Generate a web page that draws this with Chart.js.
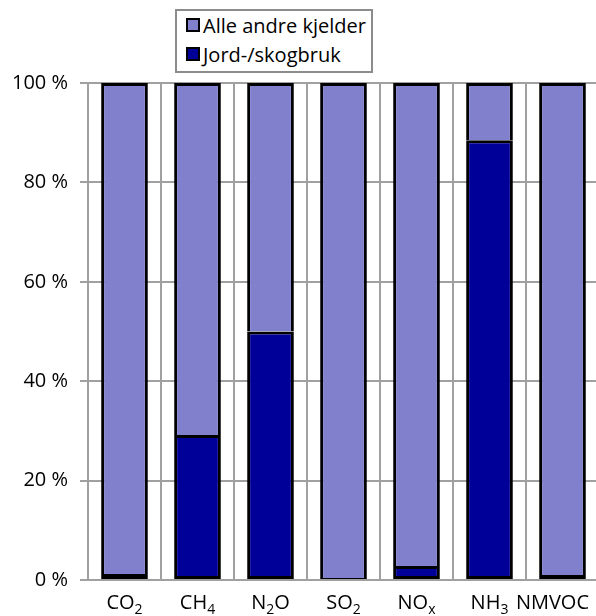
<!DOCTYPE html>
<html><head><meta charset="utf-8">
<script src="https://cdn.jsdelivr.net/npm/chart.js@4"></script>
<style>
html,body{margin:0;padding:0;overflow:hidden;background:#fff;}
#wrap{position:relative;width:599px;height:616px;}
#legend{position:absolute;left:175px;top:9px;width:194px;height:60px;border:2px solid #8c8c8c;background:#fff;font-family:'Open Sans',sans-serif;font-size:20px;color:#000;}
.item{position:absolute;left:9px;height:26px;display:flex;align-items:center;white-space:nowrap;}
.sw{width:10px;height:10px;border:2px solid #000;margin-right:3px;}
</style>
</head><body>
<div id="wrap">
<canvas id="c" width="599" height="616"></canvas>
<div id="legend"></div>
</div>
<script>
const categories = ['CO_2','CH_4','N_2O','SO_2','NO_x','NH_3','NMVOC'];
const seriesNames = ['Jord-/skogbruk','Alle andre kjelder'];
const jordSkogbruk = [1.2, 29.2, 50.0, 0.4, 2.8, 88.5, 1.0];
const alleAndre = [98.8, 70.8, 50.0, 99.6, 97.2, 11.5, 99.0];
const yTicks = [0, 20, 40, 60, 80, 100];
const colors = ['#000099', '#8080cc'];

// HTML legend (Alle andre first)
const leg = document.getElementById('legend');
[[seriesNames[1], colors[1]], [seriesNames[0], colors[0]]].forEach((s, i) => {
  const d = document.createElement('div');
  d.className = 'item';
  d.style.top = (1 + i * 29) + 'px';
  d.innerHTML = '<span class="sw" style="background:' + s[1] + '"></span><span>' + s[0] + '</span>';
  leg.appendChild(d);
});

const FONT = "'Open Sans', sans-serif";
const VIEW_RIGHT = 589;

const subLabels = {
  id: 'subLabels',
  afterDraw(chart) {
    const ctx = chart.ctx, xs = chart.scales.x;
    const base = chart.chartArea.bottom + 29;
    ctx.save();
    ctx.fillStyle = '#000';
    ctx.textBaseline = 'alphabetic';
    ctx.textAlign = 'left';
    categories.forEach((lab, i) => {
      const parts = [];
      for (let k = 0; k < lab.length; k++) {
        if (lab[k] === '_') { parts.push([lab[k + 1], true]); k++; }
        else parts.push([lab[k], false]);
      }
      let w = 0;
      parts.forEach(p => { ctx.font = (p[1] ? '14px ' : '20px ') + FONT; w += ctx.measureText(p[0]).width; });
      let x = Math.min(xs.getPixelForValue(i) - w / 2, VIEW_RIGHT - w);
      parts.forEach(p => {
        ctx.font = (p[1] ? '14px ' : '20px ') + FONT;
        ctx.fillText(p[0], x, base + (p[1] ? 5 : 0));
        x += ctx.measureText(p[0]).width;
      });
    });
    ctx.restore();
  }
};

new Chart(document.getElementById('c'), {
  type: 'bar',
  data: {
    labels: categories,
    datasets: [
      { label: seriesNames[0], data: jordSkogbruk, backgroundColor: colors[0], borderColor: '#000', borderWidth: 3, borderSkipped: false, barPercentage: 0.64, categoryPercentage: 1 },
      { label: seriesNames[1], data: alleAndre, backgroundColor: colors[1], borderColor: '#000', borderWidth: 3, borderSkipped: 'start', barPercentage: 0.64, categoryPercentage: 1 }
    ]
  },
  options: {
    responsive: false,
    animation: false,
    layout: { padding: { top: 83, bottom: 36, right: 0, left: 0 } },
    plugins: { legend: { display: false }, tooltip: { enabled: false } },
    scales: {
      x: {
        stacked: true,
        ticks: { display: false },
        grid: { offset: true, color: '#a0a0a0', lineWidth: 2, drawTicks: false },
        border: { display: true, color: '#a0a0a0', width: 2 }
      },
      y: {
        stacked: true,
        min: 0, max: 100,
        afterFit(s) { s.width = 88; },
        afterBuildTicks(s) { s.ticks = yTicks.map(v => ({ value: v })); },
        ticks: { callback: v => v + ' %', color: '#000', font: { family: FONT, size: 20 }, padding: 12 },
        grid: { color: '#a0a0a0', lineWidth: 2, tickLength: 8 },
        border: { display: false }
      }
    }
  },
  plugins: [subLabels]
});
</script>
</body></html>
